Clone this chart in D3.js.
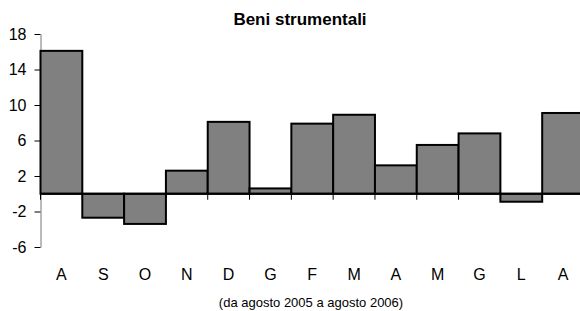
<!DOCTYPE html>
<html>
<head>
<meta charset="utf-8">
<script src="https://cdn.jsdelivr.net/npm/d3@7"></script>
<style>
  body { margin: 0; background: #fff; }
  svg { display: block; font-family: "Liberation Sans", Arial, sans-serif; }
</style>
</head>
<body>
<div id="chart"></div>
<script>
// data
const months = ["A", "S", "O", "N", "D", "G", "F", "M", "A", "M", "G", "L", "A"];
const values = [16.1, -2.7, -3.4, 2.6, 8.1, 0.6, 7.9, 8.9, 3.2, 5.5, 6.8, -0.9, 9.1];
const yTicks = [-6, -2, 2, 6, 10, 14, 18];
const title = "Beni strumentali";
const note = "(da agosto 2005 a agosto 2006)";

const width = 580;
const height = 311;

const svg = d3.select("#chart")
  .append("svg")
    .attr("width", width)
    .attr("height", height);

const x = d3.scaleBand()
  .domain(d3.range(months.length))
  .range([40.5, 584])
  .padding(0);

const y = d3.scaleLinear()
  .domain([-6, 18])
  .range([247, 34]);

// title
svg.append("text")
  .attr("x", 300)
  .attr("y", 25)
  .attr("text-anchor", "middle")
  .attr("font-size", 17)
  .attr("font-weight", "bold")
  .text(title);

// y axis (plain hyphen for negatives, like the original)
const yAxis = svg.append("g")
  .attr("transform", "translate(40.5,0)")
  .call(d3.axisLeft(y)
    .tickValues(yTicks)
    .tickFormat(d => String(d))
    .tickSize(6)
    .tickPadding(8)
    .tickSizeOuter(0));
yAxis.select(".domain").attr("stroke", "#777");
yAxis.selectAll(".tick line").attr("stroke", "#000");
yAxis.selectAll(".tick text")
  .attr("font-size", 16)
  .attr("font-family", "Liberation Sans, Arial, sans-serif")
  .attr("fill", "#000");

// bars
svg.append("g")
  .selectAll("rect")
  .data(values)
  .join("rect")
    .attr("x", (d, i) => x(i))
    .attr("width", x.bandwidth())
    .attr("y", d => y(Math.max(0, d)))
    .attr("height", d => Math.abs(y(d) - y(0)))
    .attr("fill", "#808080")
    .attr("stroke", "#000")
    .attr("stroke-width", 2);

// x axis at zero with ticks between categories
const bounds = d3.range(months.length).map(i => x(i)).concat([x.range()[1]]);
svg.append("g")
  .selectAll("line")
  .data(bounds)
  .join("line")
    .attr("x1", d => d)
    .attr("x2", d => d)
    .attr("y1", y(0))
    .attr("y2", y(0) + 6)
    .attr("stroke", "#000");

svg.append("line")
  .attr("x1", 40.5)
  .attr("x2", x.range()[1])
  .attr("y1", y(0))
  .attr("y2", y(0))
  .attr("stroke", "#000")
  .attr("stroke-width", 2);

// month labels
svg.append("g")
  .selectAll("text")
  .data(months)
  .join("text")
    .attr("x", (d, i) => x(i) + x.bandwidth() / 2)
    .attr("y", 280)
    .attr("text-anchor", "middle")
    .attr("font-size", 16)
    .text(d => d);

// footnote
svg.append("text")
  .attr("x", 311)
  .attr("y", 307)
  .attr("text-anchor", "middle")
  .attr("font-size", 13)
  .text(note);
</script>
</body>
</html>
